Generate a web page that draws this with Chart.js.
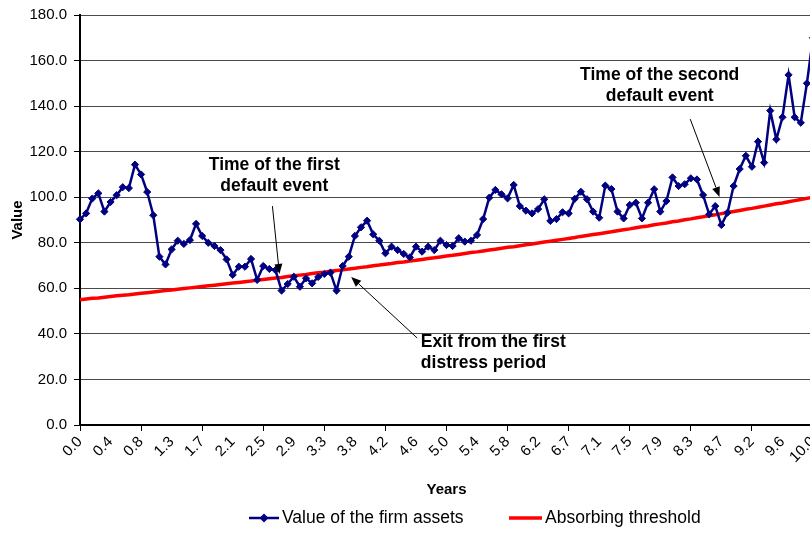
<!DOCTYPE html>
<html>
<head>
<meta charset="utf-8">
<script src="https://cdn.jsdelivr.net/npm/chart.js@4.4.0/dist/chart.umd.min.js"></script>
<style>
html,body{margin:0;padding:0;overflow:hidden;background:#fff;}
canvas{display:block;}
</style>
</head>
<body>
<canvas id="c" width="818" height="533"></canvas>
<script>
// ---- data ----
const tickLabels = ['0.0','0.4','0.8','1.3','1.7','2.1','2.5','2.9','3.3','3.8','4.2','4.6','5.0','5.4','5.8','6.2','6.7','7.1','7.5','7.9','8.3','8.7','9.2','9.6','10.0'];
const pointsPerLabel = 5;

const assetValues = [
  90.3, 92.9, 99.4, 101.7, 93.7, 97.9, 100.9, 104.4, 104.0, 114.3,
  110.0, 102.3, 92.1, 73.9, 70.5, 77.1, 80.9, 79.5, 81.2, 88.3,
  83.0, 80.0, 78.6, 76.8, 72.7, 65.9, 69.5, 69.5, 72.9, 63.7,
  69.8, 68.5, 68.0, 59.0, 61.9, 65.1, 60.7, 64.4, 62.2, 65.0,
  66.3, 66.9, 59.0, 69.8, 73.9, 83.0, 86.8, 89.7, 83.7, 80.9,
  75.4, 78.3, 76.8, 75.1, 73.6, 78.3, 76.1, 78.3, 76.8, 80.9,
  79.0, 78.6, 82.0, 80.5, 80.9, 83.4, 90.4, 99.8, 103.2, 101.3,
  99.5, 105.4, 96.1, 94.1, 92.9, 94.8, 99.1, 89.6, 90.4, 93.4,
  92.9, 99.3, 102.4, 99.1, 93.7, 91.0, 105.1, 103.6, 93.7, 90.7,
  96.6, 97.6, 90.7, 97.6, 103.5, 93.7, 98.3, 108.7, 104.9, 105.7,
  108.3, 107.8, 101.0, 92.5, 96.1, 87.8, 93.2, 104.9, 112.4, 118.2,
  113.4, 124.4, 115.2, 138.0, 125.4, 135.1, 153.7, 135.1, 132.7, 150.0,
  170.0
];

const thresholdValues = [
  55.0, 55.3, 55.6, 55.8, 56.1, 56.4, 56.7, 57.0, 57.2, 57.5,
  57.8, 58.1, 58.4, 58.7, 59.0, 59.3, 59.6, 59.9, 60.2, 60.5,
  60.8, 61.1, 61.4, 61.7, 62.0, 62.3, 62.6, 62.9, 63.2, 63.6,
  63.9, 64.2, 64.5, 64.8, 65.2, 65.5, 65.8, 66.1, 66.5, 66.8,
  67.1, 67.5, 67.8, 68.1, 68.5, 68.8, 69.2, 69.5, 69.9, 70.2,
  70.6, 70.9, 71.3, 71.6, 72.0, 72.3, 72.7, 73.1, 73.4, 73.8,
  74.2, 74.5, 74.9, 75.3, 75.7, 76.0, 76.4, 76.8, 77.2, 77.6,
  78.0, 78.3, 78.7, 79.1, 79.5, 79.9, 80.3, 80.7, 81.1, 81.5,
  81.9, 82.3, 82.8, 83.2, 83.6, 84.0, 84.4, 84.8, 85.3, 85.7,
  86.1, 86.6, 87.0, 87.4, 87.9, 88.3, 88.7, 89.2, 89.6, 90.1,
  90.5, 91.0, 91.4, 91.9, 92.3, 92.8, 93.3, 93.7, 94.2, 94.7,
  95.1, 95.6, 96.1, 96.6, 97.1, 97.5, 98.0, 98.5, 99.0, 99.5,
  100.0
];

const seriesNames = ['Value of the firm assets', 'Absorbing threshold'];
const axisTitles = { x: 'Years', y: 'Value' };
const yRange = { min: 0, max: 180, step: 20 };

// annotations in data space: [category index, value]
const annotations = [
  { lines: ['Time of the first', 'default event'], at: [31.8, 114.1], align: 'center', from: [31.5, 96.1], to: [32.65, 66.3] },
  { lines: ['Time of the second', 'default event'], at: [94.9, 153.7], align: 'center', from: [99.9, 134.3], to: [104.7, 100.1] },
  { lines: ['Exit from the first', 'distress period'], at: [55.8, 36.4], align: 'left', from: [55.2, 38.2], to: [44.4, 65.0] }
];

// ---- build ----
const labels = assetValues.map((_, i) => i % pointsPerLabel === 0 ? tickLabels[i / pointsPerLabel] : '');
const FONT = "'Liberation Sans', Arial, sans-serif";
const BLUE = '#000080', RED = '#ff0000';

function arrow(ctx, x1, y1, x2, y2) {
  ctx.save();
  ctx.strokeStyle = '#000'; ctx.fillStyle = '#000'; ctx.lineWidth = 1;
  const ang = Math.atan2(y2 - y1, x2 - x1), L = 10, W = 4;
  const bx = x2 - L * Math.cos(ang), by = y2 - L * Math.sin(ang);
  ctx.beginPath(); ctx.moveTo(x1, y1); ctx.lineTo(bx, by); ctx.stroke();
  ctx.beginPath();
  ctx.moveTo(x2, y2);
  ctx.lineTo(bx + W * Math.sin(ang), by - W * Math.cos(ang));
  ctx.lineTo(bx - W * Math.sin(ang), by + W * Math.cos(ang));
  ctx.closePath(); ctx.fill();
  ctx.restore();
}

const annotationPlugin = {
  id: 'notes',
  afterDatasetsDraw(chart) {
    const { ctx, scales: { x, y } } = chart;
    ctx.save();
    ctx.font = "bold 17.5px " + FONT;
    ctx.fillStyle = '#000';
    ctx.textBaseline = 'middle';
    annotations.forEach(a => {
      ctx.textAlign = a.align;
      const tx = x.getPixelForValue(a.at[0]), ty = y.getPixelForValue(a.at[1]);
      a.lines.forEach((t, k) => ctx.fillText(t, tx, ty + k * 21));
      arrow(ctx, x.getPixelForValue(a.from[0]), y.getPixelForValue(a.from[1]),
                 x.getPixelForValue(a.to[0]), y.getPixelForValue(a.to[1]));
    });
    ctx.restore();
  }
};

const legendPlugin = {
  id: 'customLegend',
  afterDraw(chart) {
    const ctx = chart.ctx;
    const yy = 518;
    ctx.save();
    ctx.font = "17.5px " + FONT;
    ctx.textBaseline = 'middle';
    ctx.textAlign = 'left';
    ctx.fillStyle = '#000';
    // series 1
    ctx.strokeStyle = BLUE; ctx.lineWidth = 2.5;
    ctx.beginPath(); ctx.moveTo(249, yy); ctx.lineTo(279, yy); ctx.stroke();
    ctx.fillStyle = BLUE;
    ctx.beginPath(); ctx.moveTo(264 - 4.5, yy); ctx.lineTo(264, yy - 4.5); ctx.lineTo(264 + 4.5, yy); ctx.lineTo(264, yy + 4.5); ctx.closePath(); ctx.fill();
    ctx.fillStyle = '#000';
    ctx.fillText(chart.data.datasets[0].label, 282, yy);
    // series 2
    ctx.strokeStyle = RED; ctx.lineWidth = 3.5;
    ctx.beginPath(); ctx.moveTo(509, yy); ctx.lineTo(542, yy); ctx.stroke();
    ctx.fillText(chart.data.datasets[1].label, 545, yy);
    ctx.restore();
  }
};

Chart.defaults.font.family = FONT;
Chart.defaults.color = '#000';

new Chart(document.getElementById('c'), {
  type: 'line',
  data: {
    labels: labels,
    datasets: [
      {
        label: seriesNames[0],
        data: assetValues,
        borderColor: BLUE,
        backgroundColor: BLUE,
        borderWidth: 2.5,
        pointStyle: 'rectRot',
        pointRadius: 3.6,
        pointBorderWidth: 1,
        pointBackgroundColor: BLUE,
        pointBorderColor: BLUE,
        tension: 0,
        order: 1
      },
      {
        label: seriesNames[1],
        data: thresholdValues,
        borderColor: RED,
        backgroundColor: RED,
        borderWidth: 3.5,
        pointRadius: 0,
        tension: 0,
        order: 2
      }
    ]
  },
  options: {
    responsive: false,
    animation: false,
    devicePixelRatio: 1,
    layout: { padding: { top: 15, left: 0, right: 3, bottom: 34 } },
    plugins: {
      legend: { display: false },
      tooltip: { enabled: false }
    },
    scales: {
      x: {
        type: 'category',
        offset: false,
        border: { display: true, color: '#000', width: 2 },
        grid: {
          drawOnChartArea: false,
          drawTicks: true,
          tickLength: 6,
          tickColor: (c) => (c.index % 10 === 0 ? '#000' : 'rgba(0,0,0,0)')
        },
        ticks: {
          autoSkip: false,
          maxRotation: 45,
          minRotation: 45,
          padding: 2,
          font: { size: 15 },
          color: '#000'
        },
        title: { display: true, text: axisTitles.x, font: { size: 15, weight: 'bold' }, padding: { top: 0, bottom: 0 }, color: '#000' },
        afterFit(s) { s.height = 74; s.paddingLeft = 0; s.paddingRight = 0; }
      },
      y: {
        min: yRange.min,
        max: yRange.max,
        border: { display: true, color: '#000', width: 2 },
        grid: { color: '#4a4a4a', lineWidth: 1, tickLength: 6, tickColor: '#000' },
        ticks: {
          stepSize: yRange.step,
          padding: 7,
          font: { size: 15 },
          color: '#000',
          callback: (v) => Number(v).toFixed(1)
        },
        title: { display: true, text: axisTitles.y, font: { size: 15, weight: 'bold' }, padding: { top: 9, bottom: 0 }, color: '#000' },
        afterFit(s) { s.width = 80; s.paddingTop = 0; s.paddingBottom = 0; }
      }
    }
  },
  plugins: [annotationPlugin, legendPlugin]
});
</script>
</body>
</html>
